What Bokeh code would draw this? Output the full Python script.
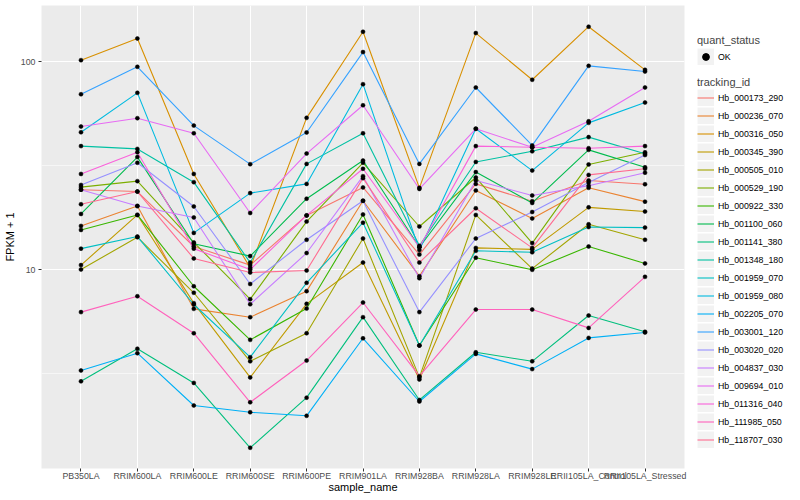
from bokeh.plotting import figure
from bokeh.layouts import row
from bokeh.models import (FactorRange, Range1d, FixedTicker, Legend, LegendItem,
                          ColumnDataSource, BasicTickFormatter)
from bokeh.embed import file_html
from bokeh.resources import INLINE

samples = ["PB350LA", "RRIM600LA", "RRIM600LE", "RRIM600SE", "RRIM600PE",
           "RRIM901LA", "RRIM928BA", "RRIM928LA", "RRIM928LE",
           "RRII105LA_Control", "RRII105LA_Stressed"]

tracking_ids = ["Hb_000173_290", "Hb_000236_070", "Hb_000316_050", "Hb_000345_390",
                "Hb_000505_010", "Hb_000529_190", "Hb_000922_330", "Hb_001100_060",
                "Hb_001141_380", "Hb_001348_180", "Hb_001959_070", "Hb_001959_080",
                "Hb_002205_070", "Hb_003001_120", "Hb_003020_020", "Hb_004837_030",
                "Hb_009694_010", "Hb_011316_040", "Hb_111985_050", "Hb_118707_030"]

colors = ["#F8766D", "#EA8331", "#D89000", "#C09B00", "#A3A500", "#7CAE00", "#39B600",
          "#00BB4E", "#00BF7D", "#00C1A3", "#00BFC4", "#00BAE0", "#00B0F6", "#35A2FF",
          "#9590FF", "#C77CFF", "#E76BF3", "#FA62DB", "#FF62BC", "#FF6C91"]

# FPKM + 1 per sample (order of `samples`)
hb_000173_290 = [24.2, 23.7, 12.9, 10.5, 18.2, 24.8, 11.8, 25.8, 21.3, 26.8, 25.7]
hb_000236_070 = [16.2, 20.2, 6.47, 5.90, 7.87, 21.4, 9.29, 24.0, 17.6, 24.7, 21.2]
hb_000316_050 = [101.5, 129, 28.8, 10.2, 53.6, 139, 24.7, 137, 81.7, 147, 91.2]
hb_000345_390 = [10.5, 18.3, 6.89, 3.03, 6.84, 10.8, 2.96, 12.7, 12.5, 19.9, 19.0]
hb_000505_010 = [10.0, 14.3, 7.73, 3.62, 4.94, 14.1, 3.03, 18.3, 10.1, 16.5, 13.9]
hb_000529_190 = [24.9, 26.6, 13.5, 7.20, 17.0, 32.6, 16.1, 27.7, 13.4, 32.0, 36.6]
hb_000922_330 = [15.5, 18.3, 8.31, 4.59, 6.49, 18.4, 4.31, 11.4, 9.97, 12.9, 10.7]
hb_001100_060 = [18.5, 34.7, 13.3, 11.6, 21.9, 33.4, 12.8, 29.4, 20.9, 37.6, 31.0]
hb_001141_380 = [2.90, 4.16, 2.85, 1.39, 2.42, 5.90, 2.36, 4.00, 3.62, 6.01, 5.02]
hb_001348_180 = [39.2, 38.0, 26.3, 10.8, 32.2, 45.2, 13.0, 32.9, 37.0, 43.3, 36.0]
hb_001959_070 = [12.6, 14.4, 6.79, 3.79, 8.63, 16.8, 4.31, 12.3, 12.1, 16.0, 15.9]
hb_001959_080 = [45.7, 70.7, 15.0, 23.3, 25.8, 77.8, 12.4, 47.5, 29.9, 50.7, 63.5]
hb_002205_070 = [3.27, 3.96, 2.22, 2.06, 1.98, 4.67, 2.32, 3.93, 3.32, 4.69, 4.98]
hb_003001_120 = [69.6, 94.3, 49.2, 32.1, 45.6, 111, 32.2, 75.0, 39.5, 95.3, 89.5]
hb_003020_020 = [25.5, 32.6, 20.1, 8.52, 13.9, 21.4, 6.24, 14.1, 18.9, 26.2, 35.5]
hb_004837_030 = [24.2, 20.2, 17.8, 6.81, 12.0, 28.1, 9.08, 26.8, 22.7, 25.3, 29.2]
hb_009694_010 = [48.7, 53.4, 45.2, 18.7, 36.1, 61.6, 24.4, 47.5, 38.7, 51.6, 75.0]
hb_011316_040 = [28.8, 36.6, 12.6, 10.0, 18.2, 30.5, 12.8, 39.2, 38.7, 38.3, 39.2]
hb_111985_050 = [6.24, 7.44, 4.94, 2.30, 3.65, 6.94, 3.07, 6.42, 6.42, 5.24, 9.22]
hb_118707_030 = [20.6, 23.7, 11.3, 9.67, 9.89, 27.5, 10.8, 19.7, 12.7, 28.5, 30.5]

series = [hb_000173_290, hb_000236_070, hb_000316_050, hb_000345_390, hb_000505_010,
          hb_000529_190, hb_000922_330, hb_001100_060, hb_001141_380, hb_001348_180,
          hb_001959_070, hb_001959_080, hb_002205_070, hb_003001_120, hb_003020_020,
          hb_004837_030, hb_009694_010, hb_011316_040, hb_111985_050, hb_118707_030]

FONT = "Liberation Sans"

p = figure(width=697, height=500,
           x_range=FactorRange(factors=samples, range_padding=0.2,
                               range_padding_units="absolute"),
           y_axis_type="log", y_range=Range1d(1.105, 185.9),
           output_backend="svg", toolbar_location=None,
           min_border_left=40, min_border_right=13, min_border_top=5,
           min_border_bottom=32)

p.background_fill_color = "#EBEBEB"
p.border_fill_color = "white"
p.outline_line_color = None

p.xgrid.grid_line_color = "white"
p.xgrid.grid_line_width = 1.1
p.ygrid.grid_line_color = "white"
p.ygrid.grid_line_width = 1.1
p.ygrid.minor_grid_line_color = "white"
p.ygrid.minor_grid_line_width = 0.55

p.yaxis.ticker = FixedTicker(ticks=[10, 100], minor_ticks=[3.1623, 31.623])
p.yaxis.formatter = BasicTickFormatter()
p.yaxis.major_label_overrides = {10: "10", 100: "100"}

for ax in (p.xaxis[0], p.yaxis[0]):
    ax.axis_line_color = None
    ax.major_tick_line_color = "#333333"
    ax.major_tick_out = 3
    ax.major_tick_in = 0
    ax.minor_tick_line_color = None
    ax.major_label_text_font = FONT
    ax.major_label_text_font_size = "8.8px"
    ax.major_label_text_color = "#4D4D4D"
    ax.axis_label_text_font = FONT
    ax.axis_label_text_font_size = "11px"
    ax.axis_label_text_font_style = "normal"
    ax.axis_label_text_color = "black"

p.xaxis.major_label_standoff = -1
p.xaxis.axis_label_standoff = -3
p.yaxis.major_label_standoff = 2
p.yaxis.axis_label_standoff = 2

p.xaxis.axis_label = "sample_name"
p.yaxis.axis_label = "FPKM + 1"

for vals, col in zip(series, colors):
    p.line(x=samples, y=vals, line_color=col, line_width=1.1)

pt_x, pt_y = [], []
for vals in series:
    pt_x.extend(samples)
    pt_y.extend(vals)
p.scatter(x="x", y="y", source=ColumnDataSource(dict(x=pt_x, y=pt_y)),
          size=4, fill_color="black", line_color="black", line_width=0.5)

# ---- legend panel (its glyphs use the same data, kept out of its view) ----
lf = figure(width=103, height=500, x_range=FactorRange(factors=samples),
            y_range=Range1d(1000, 2000),
            output_backend="svg", toolbar_location=None,
            x_axis_location=None, y_axis_location=None, min_border=0)
lf.grid.visible = False
lf.outline_line_color = None
lf.background_fill_color = "white"
lf.border_fill_color = "white"

bg = lf.line(x=samples, y=series[0], line_color="#F2F2F2", line_width=17)
key_lines = [lf.line(x=samples, y=vals, line_color=c, line_width=1.1)
             for vals, c in zip(series, colors)]
key_pt = lf.scatter(x="x", y="y", source=ColumnDataSource(dict(x=pt_x, y=pt_y)),
                    size=4, fill_color="black", line_color="black")

def style_legend(lg, standoff):
    lg.glyph_width = 17
    lg.glyph_height = 17
    lg.label_height = 17
    lg.label_width = 10
    lg.label_standoff = 4
    lg.spacing = 1
    lg.padding = 0
    lg.margin = 0
    lg.title_standoff = standoff
    lg.border_line_color = None
    lg.background_fill_alpha = 0
    lg.label_text_font = FONT
    lg.label_text_font_size = "8.8px"
    lg.label_text_color = "black"
    lg.title_text_font = FONT
    lg.title_text_font_size = "11px"
    lg.title_text_font_style = "normal"

leg_q = Legend(items=[LegendItem(label="OK", renderers=[bg, key_pt])],
               title="quant_status", location=(0, 403))
style_legend(leg_q, 2)
leg_t = Legend(items=[LegendItem(label=t, renderers=[bg, r])
                      for t, r in zip(tracking_ids, key_lines)],
               title="tracking_id", location=(0, 20))
style_legend(leg_t, 1)
lf.add_layout(leg_q, "center")
lf.add_layout(leg_t, "center")

layout = row(p, lf, spacing=0)
open("out.html", "w").write(file_html(layout, INLINE))
